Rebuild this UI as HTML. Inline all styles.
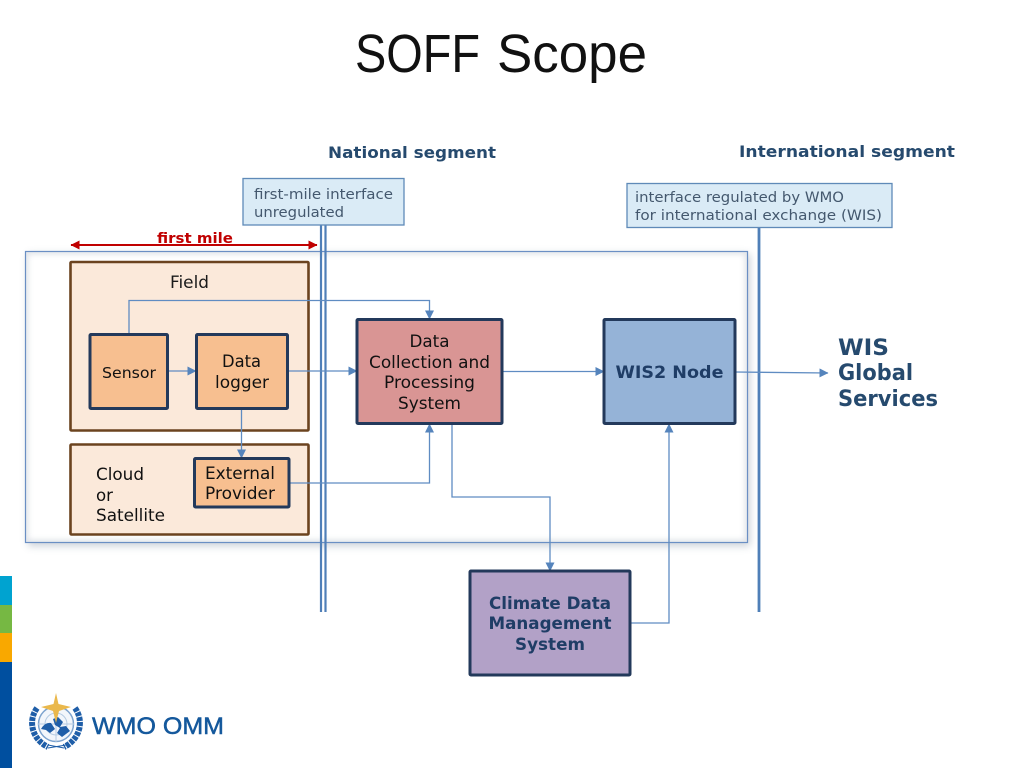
<!DOCTYPE html>
<html><head><meta charset="utf-8"><style>
html,body{margin:0;padding:0;background:#fff;width:1024px;height:768px;overflow:hidden}
svg{display:block}
text{font-family:"DejaVu Sans",sans-serif}
</style></head><body>
<svg width="1024" height="768" viewBox="0 0 1024 768" xmlns="http://www.w3.org/2000/svg">
<defs>
<filter id="sh" x="-5%" y="-5%" width="110%" height="110%"><feGaussianBlur stdDeviation="4"/></filter>
<filter id="sh2" x="-5%" y="-5%" width="110%" height="110%"><feGaussianBlur stdDeviation="3"/></filter>
<clipPath id="inner"><rect x="26" y="252" width="721" height="290"/></clipPath>
<marker id="a" markerWidth="9" markerHeight="9" refX="8.500" refY="4.500" orient="auto" markerUnits="userSpaceOnUse"><path d="M0 0L9 4.500L0 9Z" fill="#5584bc"/></marker>
<marker id="r" markerWidth="9" markerHeight="9" refX="8.500" refY="4.500" orient="auto-start-reverse" markerUnits="userSpaceOnUse"><path d="M0 0L9 4.500L0 9Z" fill="#c00000"/></marker>
</defs>

<text x="355" y="72" font-size="54" fill="#111" style='font-family:"Liberation Sans",sans-serif' textLength="125" lengthAdjust="spacingAndGlyphs">SOFF</text>
<text x="497" y="72" font-size="54" fill="#111" style='font-family:"Liberation Sans",sans-serif' textLength="150" lengthAdjust="spacingAndGlyphs">Scope</text>

<text x="328" y="158" font-size="16" font-weight="bold" fill="#264a6e" textLength="168" lengthAdjust="spacingAndGlyphs">National segment</text>
<text x="739" y="157" font-size="16" font-weight="bold" fill="#264a6e" textLength="216" lengthAdjust="spacingAndGlyphs">International segment</text>

<!-- outer panel -->
<rect x="28" y="254" width="722" height="292" fill="#8a97a8" opacity=".45" filter="url(#sh)"/>
<rect x="25.500" y="251.500" width="722" height="291" fill="#fff"/>
<g clip-path="url(#inner)"><rect x="25.500" y="251.500" width="722" height="291" fill="none" stroke="#8a97a8" stroke-width="5" opacity=".3" filter="url(#sh2)"/></g>
<rect x="25.500" y="251.500" width="722" height="291" fill="none" stroke="#6a8fc4" stroke-width="1.200"/>

<!-- Field / cloud -->
<rect x="70.500" y="262" width="238" height="168.500" rx="1" fill="#fbe9da" stroke="#6b431f" stroke-width="2.600"/>
<rect x="70.500" y="444.500" width="238" height="90" rx="1" fill="#fbe9da" stroke="#6b431f" stroke-width="2.600"/>

<!-- interface lines -->
<path d="M321 225V612M325.500 225V612" stroke="#4f7fb8" stroke-width="2.200" fill="none"/>
<path d="M759 227V612" stroke="#4f7fb8" stroke-width="2.800" fill="none"/>

<!-- callouts -->
<rect x="243" y="178.500" width="161" height="46.500" fill="#daebf6" stroke="#5f8ab8" stroke-width="1.300"/>
<text x="254" y="199" font-size="14.500" fill="#44586e" textLength="139" lengthAdjust="spacingAndGlyphs">first-mile interface</text>
<text x="254" y="217" font-size="14.500" fill="#44586e" textLength="90" lengthAdjust="spacingAndGlyphs">unregulated</text>
<rect x="627" y="183.500" width="265" height="44" fill="#daebf6" stroke="#5f8ab8" stroke-width="1.300"/>
<text x="635" y="202" font-size="14.500" fill="#44586e" textLength="209" lengthAdjust="spacingAndGlyphs">interface regulated by WMO</text>
<text x="635" y="220" font-size="14.500" fill="#44586e" textLength="247" lengthAdjust="spacingAndGlyphs">for international exchange (WIS)</text>

<!-- first mile -->
<text x="157" y="243" font-size="14.500" font-weight="bold" fill="#c00000" textLength="76" lengthAdjust="spacingAndGlyphs">first mile</text>
<path d="M71 245H317" stroke="#c00000" stroke-width="2" fill="none" marker-start="url(#r)" marker-end="url(#r)"/>

<text x="170" y="288" font-size="16.500" fill="#1a1a1a" textLength="39" lengthAdjust="spacingAndGlyphs">Field</text>

<!-- connectors -->
<g fill="none" stroke="#5f8cc2" stroke-width="1.300">
<path d="M129 334V300.500H429.500V319" marker-end="url(#a)"/>
<path d="M167 371H196" marker-end="url(#a)"/>
<path d="M288 371H357" marker-end="url(#a)"/>
<path d="M241.500 409V458" marker-end="url(#a)"/>
<path d="M289 483H429.500V424" marker-end="url(#a)"/>
<path d="M502 371.500H604" marker-end="url(#a)"/>
<path d="M735 372L828 373" marker-end="url(#a)"/>
<path d="M452 424V497H550V571" marker-end="url(#a)"/>
<path d="M631 623H669V424" marker-end="url(#a)"/>
</g>

<!-- boxes -->
<g stroke="#23395b" stroke-width="3">
<rect x="90" y="334.500" width="77.500" height="74" rx="1" fill="#f7bf90"/>
<rect x="196.500" y="334.500" width="91" height="74" rx="1" fill="#f7bf90"/>
<rect x="194.500" y="458.500" width="94.500" height="48.500" rx="1" fill="#f7bf90"/>
<rect x="357" y="319.500" width="145" height="104" rx="1" fill="#d99594"/>
<rect x="604" y="319.500" width="131" height="104" rx="1" fill="#95b3d7"/>
<rect x="470" y="571" width="160" height="104" rx="1" fill="#b2a1c7"/>
</g>

<g font-size="16.500" fill="#111" text-anchor="middle">
<text x="129" y="378" font-size="15" textLength="54" lengthAdjust="spacingAndGlyphs">Sensor</text>
<text x="241.500" y="367" textLength="39" lengthAdjust="spacingAndGlyphs">Data</text>
<text x="242" y="388" textLength="54" lengthAdjust="spacingAndGlyphs">logger</text>
<text x="240" y="479" textLength="70" lengthAdjust="spacingAndGlyphs">External</text>
<text x="240" y="499" textLength="70" lengthAdjust="spacingAndGlyphs">Provider</text>
<text x="429.500" y="347" textLength="40" lengthAdjust="spacingAndGlyphs">Data</text>
<text x="429.500" y="368" textLength="121" lengthAdjust="spacingAndGlyphs">Collection and</text>
<text x="429.500" y="388" textLength="91" lengthAdjust="spacingAndGlyphs">Processing</text>
<text x="429.500" y="409" textLength="63" lengthAdjust="spacingAndGlyphs">System</text>
</g>
<g font-size="16.500" fill="#111">
<text x="96" y="480" textLength="48" lengthAdjust="spacingAndGlyphs">Cloud</text>
<text x="96" y="501" textLength="17" lengthAdjust="spacingAndGlyphs">or</text>
<text x="96" y="521" textLength="69" lengthAdjust="spacingAndGlyphs">Satellite</text>
</g>
<g font-size="16.500" font-weight="bold" fill="#1f3d66" text-anchor="middle">
<text x="669.500" y="378" textLength="108" lengthAdjust="spacingAndGlyphs">WIS2 Node</text>
<text x="550" y="609" textLength="122" lengthAdjust="spacingAndGlyphs">Climate Data</text>
<text x="550" y="629" textLength="123" lengthAdjust="spacingAndGlyphs">Management</text>
<text x="550" y="650" textLength="70" lengthAdjust="spacingAndGlyphs">System</text>
</g>
<g font-size="22" font-weight="bold" fill="#264a6e">
<text x="838" y="355" textLength="51" lengthAdjust="spacingAndGlyphs">WIS</text>
<text x="838" y="380" textLength="75" lengthAdjust="spacingAndGlyphs">Global</text>
<text x="838" y="406" textLength="100" lengthAdjust="spacingAndGlyphs">Services</text>
</g>

<!-- side strip -->
<rect x="0" y="576" width="12" height="29" fill="#00a3d0"/>
<rect x="0" y="605" width="12" height="28" fill="#76b843"/>
<rect x="0" y="633" width="12" height="29" fill="#f9a800"/>
<rect x="0" y="662" width="12" height="106" fill="#004f9f"/>

<!-- logo -->
<g>
<path d="M37 708C27 722 33 740 48 747M75 708C85 722 79 740 64 747" fill="none" stroke="#1f5ea8" stroke-width="6" stroke-dasharray="4 1"/>
<path d="M48 748L66 745M64 748L48 745" stroke="#1f5ea8" stroke-width="1"/>
<circle cx="56" cy="724" r="17.500" fill="#f2f6fb" stroke="#7ea4cf" stroke-width="1.500"/>
<circle cx="56" cy="724" r="11" fill="none" stroke="#b5cbe3" stroke-width="1"/>
<path d="M56 706V742M38 724H74" stroke="#b5cbe3" stroke-width="1"/>
<path d="M41 729Q45 722 51 723L55 729L50 733L46 730ZM53 719L58 717L63 722L60 727L66 726L70 731L62 737L57 733L60 728L55 725Z" fill="#1f5ea8"/>
<path d="M56 693L58.500 704L71 707L59 711L56 723L53 711L41 707L53.500 704Z" fill="#eab84c"/>
<text x="92" y="734" font-size="24" fill="#14589c" stroke="#14589c" stroke-width=".5" style='font-family:"Liberation Sans",sans-serif' textLength="132" lengthAdjust="spacingAndGlyphs">WMO OMM</text>
</g>
</svg>
</body></html>
